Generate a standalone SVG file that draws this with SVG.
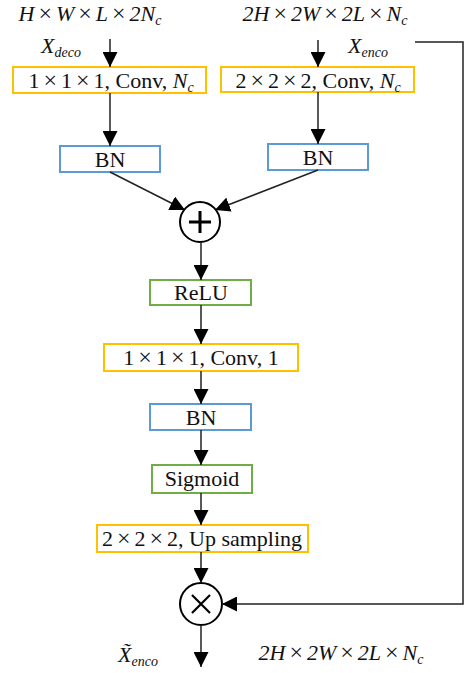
<svg xmlns="http://www.w3.org/2000/svg" width="466" height="673" viewBox="0 0 466 673" font-family="'Liberation Serif', 'DejaVu Serif', serif">
<style>
  text { font-family: "Liberation Serif", "DejaVu Serif", serif; font-size: 22px; fill: #111; }
  .lbl { text-anchor: middle; }
  .it { font-style: italic; }
  .sub { font-size: 14px; font-style: italic; }
  .x { font-size: 24px; font-style: normal; }
  .orange { fill: #fff; stroke: #FFC000; stroke-width: 2; }
  .blue { fill: #fff; stroke: #5B9BD5; stroke-width: 2; }
  .green { fill: #fff; stroke: #70AD47; stroke-width: 2; }
  .op { fill: #fff; stroke: #000; stroke-width: 2; }
  .sym { stroke: #000; stroke-width: 3; fill: none; }
  .conn line, .conn polyline { stroke: #222; stroke-width: 1.5; fill: none; marker-end: url(#arrow); }
</style>
<defs>
  <marker id="arrow" viewBox="0 0 15 15" markerWidth="15" markerHeight="15" refX="15" refY="7.5" orient="auto" markerUnits="userSpaceOnUse">
    <path d="M0,0 L15,7.5 L0,15 z" fill="#000"/>
  </marker>
</defs>

<g id="labels">
  <text class="lbl it" x="90" y="21">H<tspan class="x" dx="4">×</tspan><tspan dx="4">W</tspan><tspan class="x" dx="4">×</tspan><tspan dx="4">L</tspan><tspan class="x" dx="4">×</tspan><tspan dx="4">2N</tspan><tspan class="sub" dy="4">c</tspan></text>
  <text class="lbl it" x="325" y="21">2H<tspan class="x" dx="4">×</tspan><tspan dx="4">2W</tspan><tspan class="x" dx="4">×</tspan><tspan dx="4">2L</tspan><tspan class="x" dx="4">×</tspan><tspan dx="4">N</tspan><tspan class="sub" dy="4">c</tspan></text>
  <text class="it" x="41" y="53">X<tspan class="sub" dy="4">deco</tspan></text>
  <text class="it" x="348" y="53">X<tspan class="sub" dy="4">enco</tspan></text>
  <text class="it" x="118" y="662">X̃<tspan class="sub" dy="4">enco</tspan></text>
  <text class="lbl it" x="341" y="660">2H<tspan class="x" dx="4">×</tspan><tspan dx="4">2W</tspan><tspan class="x" dx="4">×</tspan><tspan dx="4">2L</tspan><tspan class="x" dx="4">×</tspan><tspan dx="4">N</tspan><tspan class="sub" dy="4">c</tspan></text>
</g>

<g id="conv1">
  <rect class="orange" x="13" y="67" width="193" height="26"/>
  <text class="lbl" x="111" y="88">1<tspan class="x" dx="4">×</tspan><tspan dx="4">1</tspan><tspan class="x" dx="4">×</tspan><tspan dx="4">1, Conv, </tspan><tspan class="it">N</tspan><tspan class="sub" dy="4">c</tspan></text>
</g>
<g id="conv2">
  <rect class="orange" x="221" y="67" width="193" height="25"/>
  <text class="lbl" x="318" y="88">2<tspan class="x" dx="4">×</tspan><tspan dx="4">2</tspan><tspan class="x" dx="4">×</tspan><tspan dx="4">2, Conv, </tspan><tspan class="it">N</tspan><tspan class="sub" dy="4">c</tspan></text>
</g>
<g id="bn1">
  <rect class="blue" x="60" y="146" width="100" height="26"/>
  <text class="lbl" x="110" y="167">BN</text>
</g>
<g id="bn2">
  <rect class="blue" x="268" y="144" width="100" height="26"/>
  <text class="lbl" x="318" y="165">BN</text>
</g>
<g id="add">
  <circle class="op" cx="200" cy="222" r="20"/>
  <path class="sym" d="M189,222 H211 M200,211 V233"/>
</g>
<g id="relu">
  <rect class="green" x="150" y="280" width="101" height="25"/>
  <text class="lbl" x="201" y="300">ReLU</text>
</g>
<g id="conv3">
  <rect class="orange" x="104" y="344" width="194" height="27"/>
  <text class="lbl" x="201" y="365">1<tspan class="x" dx="4">×</tspan><tspan dx="4">1</tspan><tspan class="x" dx="4">×</tspan><tspan dx="4">1, Conv, 1</tspan></text>
</g>
<g id="bn3">
  <rect class="blue" x="150" y="404" width="101" height="26"/>
  <text class="lbl" x="201" y="425">BN</text>
</g>
<g id="sigmoid">
  <rect class="green" x="152" y="465" width="100" height="28"/>
  <text class="lbl" x="202" y="486">Sigmoid</text>
</g>
<g id="upsample">
  <rect class="orange" x="97" y="525" width="211" height="27"/>
  <text class="lbl" x="202" y="546">2<tspan class="x" dx="4">×</tspan><tspan dx="4">2</tspan><tspan class="x" dx="4">×</tspan><tspan dx="4">2, Up sampling</tspan></text>
</g>
<g id="mul">
  <circle class="op" cx="201" cy="604" r="21"/>
  <path d="M192,595 L210,613 M210,595 L192,613" stroke="#000" stroke-width="2.2" fill="none"/>
</g>

<g id="connectors" class="conn">
  <line x1="110" y1="39" x2="110" y2="67"/>
  <line x1="318" y1="40" x2="318" y2="67"/>
  <line x1="110" y1="93" x2="110" y2="146"/>
  <line x1="318" y1="92" x2="318" y2="144"/>
  <line x1="110" y1="172" x2="185" y2="210"/>
  <line x1="318" y1="170" x2="215" y2="210"/>
  <line x1="201" y1="242" x2="201" y2="280"/>
  <line x1="201" y1="305" x2="201" y2="344"/>
  <line x1="201" y1="371" x2="201" y2="404"/>
  <line x1="201" y1="430" x2="201" y2="465"/>
  <line x1="201" y1="493" x2="201" y2="525"/>
  <line x1="201" y1="552" x2="201" y2="583"/>
  <line x1="201" y1="625" x2="201" y2="667"/>
  <polyline points="415,42 463,42 463,604 222,604"/>
</g>
</svg>
